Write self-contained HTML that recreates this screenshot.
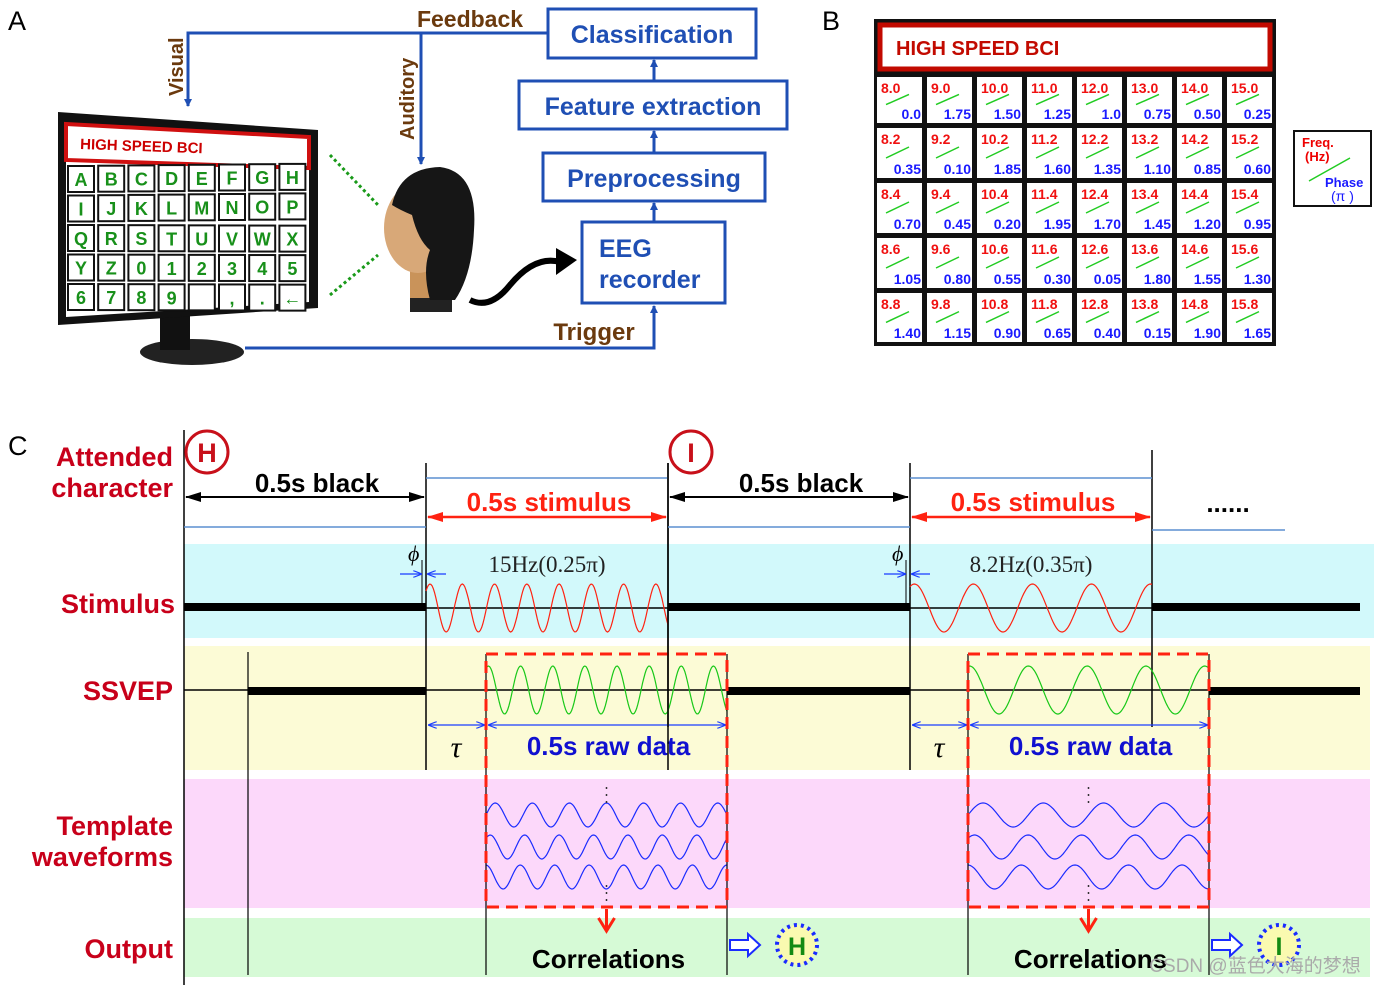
<!DOCTYPE html>
<html><head><meta charset="utf-8"><style>
html,body{margin:0;padding:0;background:#fff;}
svg{display:block;font-family:"Liberation Sans",sans-serif;}
</style></head><body>
<svg id="fig" width="1376" height="985" viewBox="0 0 1376 985" xmlns="http://www.w3.org/2000/svg">
<defs>
<marker id="ab" markerWidth="8" markerHeight="8" refX="7" refY="4" orient="auto" markerUnits="userSpaceOnUse"><path d="M0,0 L8,4 L0,8 z" fill="#1f4fb4"/></marker>
<marker id="ak" markerWidth="16" markerHeight="10" refX="15" refY="5" orient="auto-start-reverse" markerUnits="userSpaceOnUse"><path d="M0,0 L16,5 L0,10 z" fill="#000"/></marker>
<marker id="ar" markerWidth="16" markerHeight="10" refX="15" refY="5" orient="auto-start-reverse" markerUnits="userSpaceOnUse"><path d="M0,0 L16,5 L0,10 z" fill="#f21"/></marker>
<marker id="abl" markerWidth="9" markerHeight="7" refX="8" refY="3.5" orient="auto-start-reverse" markerUnits="userSpaceOnUse"><path d="M0,0 L9,3.5 L0,7" fill="none" stroke="#1a3cff" stroke-width="1.2"/></marker>
</defs>

<!-- PANEL A -->
<g>
<text x="8" y="30" font-size="27">A</text>
<polyline points="548,33 188,33 188,106" fill="none" stroke="#1f4fb4" stroke-width="3" marker-end="url(#ab)"/>
<line x1="421" y1="33" x2="421" y2="164" stroke="#1f4fb4" stroke-width="3" marker-end="url(#ab)"/>
<text x="470" y="27" font-size="23" font-weight="bold" fill="#6b3a0e" text-anchor="middle">Feedback</text>
<text transform="translate(183,96) rotate(-90)" font-size="20" font-weight="bold" fill="#6b3a0e">Visual</text>
<text transform="translate(414,140) rotate(-90)" font-size="20" font-weight="bold" fill="#6b3a0e">Auditory</text>
<rect x="548" y="9" width="208" height="49" fill="#fff" stroke="#1f4fb4" stroke-width="3"/>
<text x="652" y="43" font-size="25" font-weight="bold" fill="#1f4fb4" text-anchor="middle">Classification</text>
<rect x="519" y="81" width="268" height="48" fill="#fff" stroke="#1f4fb4" stroke-width="3"/>
<text x="653" y="115" font-size="25" font-weight="bold" fill="#1f4fb4" text-anchor="middle">Feature extraction</text>
<rect x="543" y="153" width="222" height="48" fill="#fff" stroke="#1f4fb4" stroke-width="3"/>
<text x="654" y="187" font-size="25" font-weight="bold" fill="#1f4fb4" text-anchor="middle">Preprocessing</text>
<rect x="582" y="222" width="143" height="81" fill="#fff" stroke="#1f4fb4" stroke-width="3"/>
<text x="599" y="257" font-size="25" font-weight="bold" fill="#1f4fb4">EEG</text>
<text x="599" y="288" font-size="25" font-weight="bold" fill="#1f4fb4">recorder</text>
<line x1="654" y1="81" x2="654" y2="60" stroke="#1f4fb4" stroke-width="3" marker-end="url(#ab)"/>
<line x1="654" y1="153" x2="654" y2="131" stroke="#1f4fb4" stroke-width="3" marker-end="url(#ab)"/>
<line x1="654" y1="222" x2="654" y2="203" stroke="#1f4fb4" stroke-width="3" marker-end="url(#ab)"/>
<polyline points="245,348 654,348 654,306" fill="none" stroke="#1f4fb4" stroke-width="3" marker-end="url(#ab)"/>
<text x="594" y="340" font-size="24" font-weight="bold" fill="#6b3a0e" text-anchor="middle">Trigger</text>
<!-- monitor -->
<g>
<ellipse cx="192" cy="352" rx="52" ry="13" fill="#222"/>
<rect x="160" y="300" width="30" height="50" fill="#111"/>
<polygon points="58,112 318,130 318,308 58,325" fill="#111"/>
<polygon points="66,124 309,137 309,302 66,317" fill="#fff"/>
<polygon points="66,124 309,137 309,168 66,160" fill="#fff" stroke="#d01010" stroke-width="4"/>
<text x="80" y="149" font-size="15" font-weight="bold" fill="#c00" transform="rotate(2,80,149)">HIGH SPEED BCI</text>
<g id="keys"></g>
</g>
<line x1="330" y1="155" x2="378" y2="205" stroke="#1a9a1a" stroke-width="3" stroke-dasharray="3,3"/>
<line x1="330" y1="295" x2="378" y2="255" stroke="#1a9a1a" stroke-width="3" stroke-dasharray="3,3"/>
<!-- head -->
<g>
<rect x="410" y="262" width="42" height="50" fill="#c9935a"/>
<rect x="410" y="298" width="42" height="14" fill="#222"/>
<ellipse cx="418" cy="228" rx="34" ry="45" fill="#d8a878"/>
<path d="M392,205 Q400,168 440,167 Q478,172 474,230 Q472,275 455,300 L430,300 Q422,270 430,250 Q418,240 412,215 Q400,210 392,205 z" fill="#161616"/>
<path d="M470,300 Q490,310 510,285 Q535,255 560,262" fill="none" stroke="#000" stroke-width="6"/>
<polygon points="556,248 577,260 556,275" fill="#000"/>
</g>
</g>

<!-- PANEL B -->
<g>
<text x="822" y="30" font-size="27">B</text>
<rect x="874" y="19" width="402" height="327" fill="#111"/>
<rect x="880" y="25" width="390" height="44" fill="#fff" stroke="#c20a00" stroke-width="5"/>
<text x="896" y="55" font-size="20" font-weight="bold" fill="#c20a00">HIGH SPEED BCI</text>
<g id="cells"></g>
<rect x="1294" y="131" width="77" height="75" fill="#fff" stroke="#111" stroke-width="2"/>
<text x="1302" y="147" font-size="13" font-weight="bold" fill="#e00">Freq.</text>
<text x="1305" y="161" font-size="13" font-weight="bold" fill="#e00">(Hz)</text>
<line x1="1309" y1="181" x2="1350" y2="158" stroke="#22cc22" stroke-width="1.5"/>
<text x="1325" y="187" font-size="13" font-weight="bold" fill="#1a1aff">Phase</text>
<text x="1331" y="201" font-size="14" fill="#1a1aff">(π )</text>
</g>

<!-- PANEL C -->
<g>
<text x="8" y="455" font-size="27">C</text>
<rect x="184" y="544" width="1190" height="94" fill="#d2f9fb"/>
<rect x="184" y="646" width="1186" height="124" fill="#fcfbd6"/>
<rect x="184" y="779" width="1186" height="129" fill="#fcd8fa"/>
<rect x="184" y="918" width="1186" height="59" fill="#d6fad6"/>
<g font-size="27" font-weight="bold" fill="#c8001a" text-anchor="end">
<text x="173" y="466">Attended</text>
<text x="173" y="497">character</text>
<text x="175" y="613">Stimulus</text>
<text x="173" y="700">SSVEP</text>
<text x="173" y="835">Template</text>
<text x="173" y="866">waveforms</text>
<text x="173" y="958">Output</text>
</g>
<g id="timeline"></g>
<text x="1228" y="512" font-size="26" font-weight="bold" text-anchor="middle">......</text>
<text x="1255" y="972" font-size="19" fill="#aaa" text-anchor="middle" font-family="Liberation Sans, Noto Sans CJK SC, sans-serif">CSDN @蓝色大海的梦想</text>
</g>
</svg>
<script>
const NS='http://www.w3.org/2000/svg';
// Panel B data
const keyFreqs=[[8.0,9.0,10.0,11.0,12.0,13.0,14.0,15.0],[8.2,9.2,10.2,11.2,12.2,13.2,14.2,15.2],[8.4,9.4,10.4,11.4,12.4,13.4,14.4,15.4],[8.6,9.6,10.6,11.6,12.6,13.6,14.6,15.6],[8.8,9.8,10.8,11.8,12.8,13.8,14.8,15.8]];
const keyPhases=[["0.0","1.75","1.50","1.25","1.0","0.75","0.50","0.25"],["0.35","0.10","1.85","1.60","1.35","1.10","0.85","0.60"],["0.70","0.45","0.20","1.95","1.70","1.45","1.20","0.95"],["1.05","0.80","0.55","0.30","0.05","1.80","1.55","1.30"],["1.40","1.15","0.90","0.65","0.40","0.15","1.90","1.65"]];
// Monitor keys
const keyChars=[["A","B","C","D","E","F","G","H"],["I","J","K","L","M","N","O","P"],["Q","R","S","T","U","V","W","X"],["Y","Z","0","1","2","3","4","5"],["6","7","8","9","",",",".","←"]];
// Panel C trial data
const trialChars=["H","I"];
const trialFreqs=[15,8.2];
const trialPhases=[0.25,0.35];
const templateCycles=[[6.5,7,7],[4,4.5,4.5]];
const trialDur=0.5;

function el(tag,attrs,parent,text){const e=document.createElementNS(NS,tag);for(const k in attrs)e.setAttribute(k,attrs[k]);if(text!==undefined)e.textContent=text;parent.appendChild(e);return e;}

// Panel B cells
const cells=document.getElementById('cells');
const rowTops=[77,128,183,238,293],rowH=[46,50,50,50,49];
keyFreqs.forEach((row,r)=>row.forEach((f,c)=>{
  const x=877+c*50,y=rowTops[r];
  const g=el('g',{},cells);
  
  
  el('rect',{x:x,y:y,width:45,height:rowH[r],fill:'#fff'},g);
  el('text',{x:x+4,y:y+16,'font-size':14,'font-weight':'bold',fill:'#f01010'},g,f.toFixed(1));
  el('line',{x1:x+9,y1:y+rowH[r]*0.6,x2:x+32,y2:y+rowH[r]*0.38,stroke:'#22cc22','stroke-width':1.5},g);
  el('text',{x:x+44,y:y+rowH[r]-4,'font-size':14,'font-weight':'bold',fill:'#1a1aff','text-anchor':'end'},g,keyPhases[r][c]);
}));

// Monitor keys
const keys=document.getElementById('keys');
keyChars.forEach((row,r)=>row.forEach((ch,c)=>{
  const x=68+c*30.2,y=166+r*29.5-c*0.3*(r<2?1:-0.3);
  const k=el('rect',{x:x,y:y,width:26,height:26,fill:'#fff',stroke:'#111','stroke-width':2},keys);
  
  
  el('text',{x:x+13,y:y+20,'font-size':18,'font-weight':'bold',fill:'#18901a','text-anchor':'middle'},keys,ch);
}));

// Panel C timeline
const tl=document.getElementById('timeline');
const period=484, t0=184, pxPerSec=484;
const xT=t=>t0+t*pxPerSec;
function sine(x0,x1,yc,amp,cycles,phase,color,w){
  let d='';const n=200;
  for(let i=0;i<=n;i++){const x=x0+(x1-x0)*i/n;const y=yc-amp*Math.sin(2*Math.PI*(cycles*i/n)+phase);d+=(i?'L':'M')+x.toFixed(1)+','+y.toFixed(1);}
  return el('path',{d:d,fill:'none',stroke:color,'stroke-width':w||1.2},tl);
}
function line(x1,y1,x2,y2,c,w,extra){const a={x1,y1,x2,y2,stroke:c,'stroke-width':w};Object.assign(a,extra||{});return el('line',a,tl);}

let L=line(184,430,184,985,'#000',1.5);
L=line(248,652,248,975,'#000',1.2);
L=line(184,690,1360,690,'#000',1.5);
L=line(248,691,426,691,'#000',8);

trialChars.forEach((ch,i)=>{
  const off=i*period;
  const sS=xT(trialDur)+off, sE=xT(2*trialDur)+off;
  const bS=xT(0)+off;
  const lag=i===0?60:58, rS=sS+lag, rE=sE+lag-1;
  let c=el('circle',{cx:bS+23,cy:452,r:21,fill:'#fff',stroke:'#c8101a','stroke-width':3},tl);
  
  
  el('text',{x:bS+23,y:462,'font-size':27,'font-weight':'bold',fill:'#c8101a','text-anchor':'middle'},tl,ch);
  line(sS,463,sS,770,'#000',1.5);
  if(i>0) line(bS,463,bS,770,'#000',1.5);
  if(i===0) line(sE,463,sE,727,'#000',1.5);
  if(i===1) line(sE,450,sE,727,'#000',1.5);
  line(sS,478,sE,478,'#5b8fd0',1.5);
  line(bS,527,sS,527,'#5b8fd0',1.5);
  let a=line(bS+2,497,sS-2,497,'#000',2,{'marker-start':'url(#ak)','marker-end':'url(#ak)'});
  
  
  el('text',{x:(bS+sS)/2+12,y:492,'font-size':26,'font-weight':'bold','text-anchor':'middle'},tl,'0.5s black');
  a=line(sS+2,517,sE-2,517,'#f21',2.5,{'marker-start':'url(#ar)','marker-end':'url(#ar)'});
  
  
  el('text',{x:(sS+sE)/2+2,y:511,'font-size':26,'font-weight':'bold',fill:'#f21','text-anchor':'middle'},tl,'0.5s stimulus');
  line(bS,607,sS,607,'#000',8);
  line(sS,608,sE,608,'#000',1.5);
  line(sS-4,560,sS-4,608,'#000',1);
  el('text',{x:sS-18,y:561,'font-size':22,'font-style':'italic','font-family':'Liberation Serif,serif'},tl,'ϕ');
  line(sS-26,574,sS-5,574,'#1a3cff',1.2,{'marker-end':'url(#abl)'});
  line(sS+20,574,sS+2,574,'#1a3cff',1.2,{'marker-end':'url(#abl)'});
  el('text',{x:(sS+sE)/2,y:572,'font-size':23,'font-family':'Liberation Serif,serif','text-anchor':'middle',fill:'#222'},tl,trialFreqs[i]+'Hz('+trialPhases[i]+'π)');
  const st=sine(sS,sE,608,24,trialFreqs[i]*trialDur,trialPhases[i]*Math.PI,'#f21',1.2);
  
  
  const sv=sine(rS,rE,690,24,trialFreqs[i]*trialDur,trialPhases[i]*Math.PI+0.3,'#18c818',1.2);
  
  
  line(rE,691,i===0?sE+242:1360,691,'#000',8);
  line(sS+3,725,rS-2,725,'#1a3cff',1.2,{'marker-start':'url(#abl)','marker-end':'url(#abl)'});
  line(rS+3,725,rE-2,725,'#1a3cff',1.2,{'marker-start':'url(#abl)','marker-end':'url(#abl)'});
  el('text',{x:(sS+rS)/2,y:757,'font-size':30,'font-style':'italic','font-family':'Liberation Serif,serif','text-anchor':'middle'},tl,'τ');
  el('text',{x:(rS+rE)/2+2,y:755,'font-size':26,'font-weight':'bold',fill:'#1010d0','text-anchor':'middle'},tl,'0.5s raw data');
  [815,847,877].forEach((yc,k)=>{
    const tw=sine(rS,rE,yc,12,templateCycles[i][k],k*0.8,'#1a2bff',1.2);
    
    
  });
  line((rS+rE)/2,787,(rS+rE)/2,805,'#333',1.5,{'stroke-dasharray':'2,5'});
  line((rS+rE)/2,885,(rS+rE)/2,903,'#333',1.5,{'stroke-dasharray':'2,5'});
  line(rS,654,rS,975,'#000',1.2);
  line(rE,654,rE,975,'#000',1.2);
  const bx=el('rect',{x:rS,y:654,width:rE-rS,height:253,fill:'none',stroke:'#f21','stroke-width':3,'stroke-dasharray':'12,7'},tl);
  
  
  const mx=(rS+rE)/2;
  line(mx,909,mx,930,'#f21',3);
  el('path',{d:`M${mx-8},918 L${mx},931 L${mx+8},918`,fill:'none',stroke:'#f21','stroke-width':3},tl);
  el('text',{x:mx+2,y:968,'font-size':26,'font-weight':'bold','text-anchor':'middle'},tl,'Correlations');
  el('path',{d:`M${rE+3},940 h18 v-6 l12,11 l-12,11 v-6 h-18 z`,fill:'#fff',stroke:'#1a2bff','stroke-width':2},tl);
  const oc=el('circle',{cx:rE+70,cy:945,r:20,fill:'#fafab0',stroke:'#1a2bff','stroke-width':4,'stroke-dasharray':'3,4'},tl);
  
  
  el('text',{x:rE+70,y:955,'font-size':25,'font-weight':'bold',fill:'#138a13','text-anchor':'middle'},tl,ch);
});
line(1152,530,1285,530,'#5b8fd0',1.5);
line(1152,607,1360,607,'#000',8);
line(668,607,910,607,'#000',8);
</script>
</body></html>
